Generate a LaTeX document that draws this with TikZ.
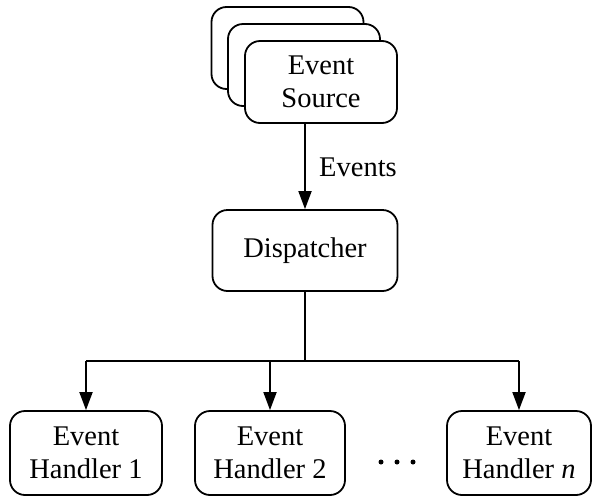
\documentclass[tikz,border=0pt]{standalone}
\usepackage{fontspec}
\setmainfont{Liberation Serif}
\usetikzlibrary{arrows.meta}
\begin{document}
\begin{tikzpicture}[x=1pt,y=-1pt,
  box/.style={draw,line width=1.8pt,rounded corners=15pt,fill=white,align=center,inner sep=0pt,
    font=\fontsize{28.5}{33}\selectfont},
  conn/.style={line width=1.8pt},
  arr/.style={conn,-{Triangle[length=18pt,width=13pt]}},
  dotmark/.style={fill=black,circle,inner sep=0pt,minimum size=5pt}]
\useasboundingbox (0,0) rectangle (592,496);
\node[box,minimum width=152pt,minimum height=82pt] (s1) at (287.5,48) {};
\node[box,minimum width=152pt,minimum height=82pt] (s2) at (304,65) {};
\node[box,minimum width=152pt,minimum height=82pt] (src) at (321,82) {Event\\Source};
\node[box,minimum width=185pt,minimum height=81pt] (disp) at (305,250.5) {Dispatcher};
\node[box,minimum width=152pt,minimum height=84pt] (h1) at (86,453) {Event\\Handler 1};
\node[box,minimum width=150pt,minimum height=84pt] (h2) at (270,453) {Event\\Handler 2};
\node[box,minimum width=144pt,minimum height=84pt] (hn) at (519,453) {Event\\Handler \textit{n}};
\node[font=\fontsize{28.5}{33}\selectfont,anchor=west,inner sep=0pt] (ev) at (319,167) {Events};
\node[dotmark] (d1) at (381,462) {};
\node[dotmark] (d2) at (397,462) {};
\node[dotmark] (d3) at (413,462) {};
\draw[arr] (src.south -| disp.north) -- (disp.north);
\coordinate (bus) at (305,361);
\draw[conn] (disp.south) -- (bus);
\draw[conn] (bus -| h1.north) -- (bus -| hn.north);
\draw[arr] (bus -| h1.north) -- (h1.north);
\draw[arr] (bus -| h2.north) -- (h2.north);
\draw[arr] (bus -| hn.north) -- (hn.north);
\end{tikzpicture}
\end{document}
